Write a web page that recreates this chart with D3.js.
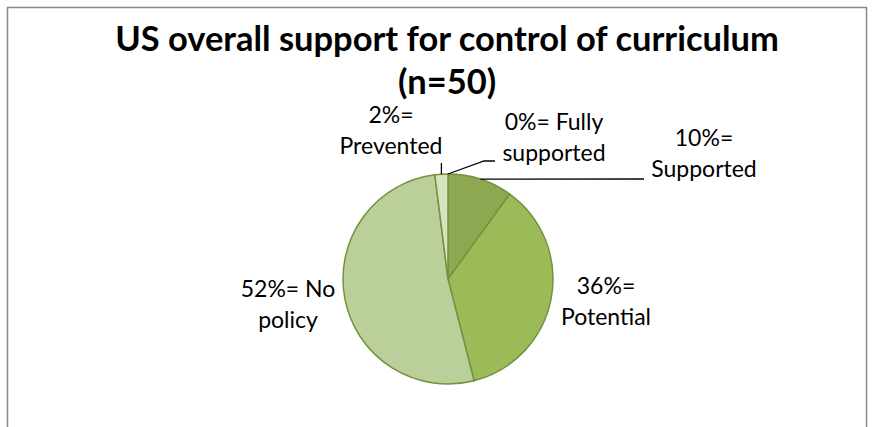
<!DOCTYPE html>
<html>
<head>
<meta charset="utf-8">
<script src="https://cdn.jsdelivr.net/npm/d3@7"></script>
<style>
  html, body { margin: 0; padding: 0; background: #fff; }
  svg { display: block; }
  text { font-family: Lato, "Liberation Sans", sans-serif; fill: #000; }
</style>
</head>
<body>
<svg id="chart" width="874" height="427"></svg>
<script>
// Survey results: share of states by level of support for control of curriculum
const categories = ["Fully supported", "Supported", "Potential", "No policy", "Prevented"];
const percents   = [0, 10, 36, 52, 2];
const labelLines = [
  ["0%= Fully", "supported"],
  ["10%=", "Supported"],
  ["36%=", "Potential"],
  ["52%= No", "policy"],
  ["2%=", "Prevented"]
];
const titleLines = ["US overall support for control of curriculum", "(n=50)"];

const sliceColors = ["#7f9a45", "#8da851", "#9bbb59", "#bbcf9a", "#d7e3bf"];
const sliceStroke = "#76923c";

const W = 874, H = 427;
const svg = d3.select("#chart");

// chart frame
svg.append("rect")
  .attr("x", 7.5).attr("y", 7.5)
  .attr("width", 859).attr("height", H + 20)
  .attr("fill", "#fff")
  .attr("stroke", "#898989")
  .attr("stroke-width", 1.5);

// title, scaled to span the frame like the original heading
const title = svg.append("g");
const titleX = 447;
const titleBaselines = [51, 94];
const probe = title.append("text")
  .attr("font-weight", "bold").attr("font-size", 100)
  .text(titleLines[0]);
const titleSize = 100 * 664 / probe.node().getComputedTextLength();
probe.remove();
titleLines.forEach((t, i) => {
  title.append("text")
    .attr("x", titleX).attr("y", titleBaselines[i])
    .attr("text-anchor", "middle")
    .attr("font-weight", "bold")
    .attr("font-size", titleSize)
    .text(t);
});

// pie
const cx = 448, cy = 279, r = 105;
const pie = d3.pie().sort(null).value(d => d)(percents);
const arc = d3.arc().innerRadius(0).outerRadius(r);
const g = svg.append("g").attr("transform", `translate(${cx},${cy})`);
g.selectAll("path")
  .data(pie)
  .join("path")
  .attr("d", arc)
  .attr("fill", (d, i) => sliceColors[i])
  .attr("stroke", sliceStroke)
  .attr("stroke-width", 1.5)
  .attr("stroke-linejoin", "round");

// data labels: text block centre x, first baseline, and leader route
const layout = {
  "Fully supported": { x: 554, y: 130, leader: [[484, 161], [495, 161]] },
  "Supported":       { x: 704, y: 146, leader: [[644, 179]] },
  "Potential":       { x: 606, y: 294, leader: null },
  "No policy":       { x: 288, y: 297, leader: null },
  "Prevented":       { x: 391, y: 123, leader: [[null, 163]] }
};
const lineGap = 31;
const labelSize = 23;

const edgePoint = d => {
  const a = (d.startAngle + d.endAngle) / 2;
  return [cx + r * Math.sin(a), cy - r * Math.cos(a)];
};

pie.forEach((d, i) => {
  const L = layout[categories[i]];
  if (L.leader) {
    const p0 = edgePoint(d);
    const pts = [p0].concat(L.leader.map(p => [p[0] === null ? p0[0] : p[0], p[1]]));
    svg.append("path")
      .attr("d", d3.line()(pts))
      .attr("fill", "none")
      .attr("stroke", "#000")
      .attr("stroke-width", 1.3);
  }
  labelLines[i].forEach((t, j) => {
    svg.append("text")
      .attr("x", L.x).attr("y", L.y + j * lineGap)
      .attr("text-anchor", "middle")
      .attr("font-size", labelSize)
      .text(t);
  });
});
</script>
</body>
</html>
